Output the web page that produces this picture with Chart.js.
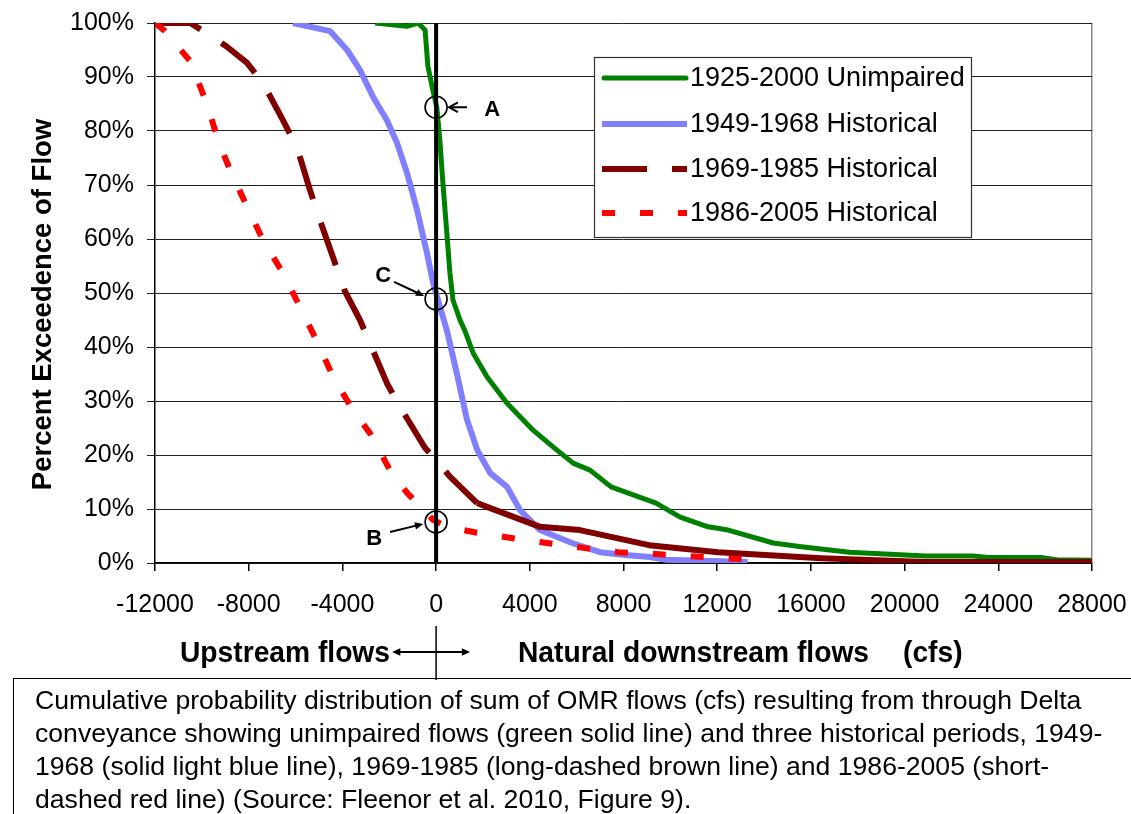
<!DOCTYPE html>
<html>
<head>
<meta charset="utf-8">
<script src="https://cdn.jsdelivr.net/npm/chart.js@4.4.1/dist/chart.umd.min.js"></script>
<style>
body{margin:0;background:#fff;width:1131px;height:814px;overflow:hidden;position:relative;font-family:"Liberation Sans",Arial,sans-serif}
#c{position:absolute;left:0;top:0}
.lbl{position:absolute;top:637px;font-weight:bold;font-size:30px;line-height:30px;white-space:nowrap;transform:scaleX(0.94);transform-origin:left top}
#cap{position:absolute;left:13px;top:678px;width:1118px;height:136px;border-left:1.5px solid #000;border-top:1.5px solid #000;box-sizing:border-box;padding:5px 0 0 21px;white-space:nowrap;font-size:26.6px;line-height:33px}
</style>
</head>
<body>
<canvas id="c" width="1131" height="680"></canvas>
<div class="lbl" style="left:180px">Upstream flows</div>
<div class="lbl" style="left:518px">Natural downstream flows</div>
<div class="lbl" style="left:903px">(cfs)</div>
<div id="cap">Cumulative probability distribution of sum of OMR flows (cfs) resulting from through Delta<br>conveyance showing unimpaired flows (green solid line) and three historical periods, 1949-<br>1968 (solid light blue line), 1969-1985 (long-dashed brown line) and 1986-2005 (short-<br>dashed red line) (Source: Fleenor et al. 2010, Figure 9).</div>
<script>
// series labels
const seriesNames = ['1925-2000 Unimpaired', '1949-1968 Historical', '1969-1985 Historical', '1986-2005 Historical'];

// flow (cfs) / percent exceedence
const unimpX = [-2600, -1250, -770, -470, -350, -140, 30, 160, 290, 460, 590, 720, 1020, 1230, 1580, 2170, 3030, 4140, 4990, 5850, 6570, 7470, 9390, 10420, 11610, 12470, 14390, 15590, 17640, 20890, 22940, 23540, 25890, 26490, 28000];
const unimpY = [100, 99.4, 100, 98.7, 92, 87.6, 84.4, 78.3, 70.4, 61, 53.7, 48.7, 45, 43, 38.9, 34.5, 29.6, 24.6, 21.5, 18.5, 17.2, 14.1, 11.1, 8.5, 6.7, 6.1, 3.7, 3.0, 2.0, 1.3, 1.3, 1.0, 1.0, 0.6, 0.5];

const h4968X = [-6110, -4530, -3800, -3250, -2690, -2100, -1670, -1240, -815, -390, -130, 40, 465, 890, 1320, 1750, 2300, 3030, 3580, 4440, 5800, 7000, 8070, 9130, 9820, 13300];
const h4968Y = [100, 98.5, 95, 91.3, 86.3, 82, 77.8, 72.2, 65.4, 57.4, 51.9, 49.3, 43, 35, 26.5, 21, 16.7, 14.1, 9.8, 6.1, 3.7, 2.0, 1.5, 1.1, 0.6, 0.2];

const h6985X = [-11900, -10500, -9780, -8930, -8070, -7390, -6540, -5940, -5380, -4960, -3890, -3250, -2100, -1540, -470, 80, 590, 1750, 2170, 4440, 6140, 9090, 12040, 16440, 20890, 28000];
const h6985Y = [100, 100, 98.1, 95.6, 92.6, 88.9, 82, 77, 69, 63.5, 50.3, 45, 33.3, 28.9, 21.3, 18.7, 16, 11.1, 10.4, 6.7, 6.1, 3.3, 2.0, 0.9, 0.2, 0.2];

const h8605X = [-12000, -11570, -10510, -9780, -9310, -8800, -8070, -7390, -6540, -5810, -5080, -4400, -3550, -2820, -1970, -1240, -130, 465, 1750, 3280, 4730, 6270, 7770, 9220, 10720, 12170, 13750, 14040];
const h8605Y = [100, 98.5, 93, 85, 78.3, 72.8, 66, 59.8, 53.7, 47.4, 41, 34.5, 28.3, 24, 17.2, 13, 8, 6.7, 5.6, 4.6, 3.7, 2.8, 2.0, 1.7, 1.3, 0.9, 0.6, 0.5];

// circled points on the zero line
const markNames = ['A', 'C', 'B'];
const markPct = [84.4, 48.9, 7.6];

const colors = ['#008000', '#8080ff', '#800000', '#ff0000'];
const widths = [5, 6, 6, 6];
const dashes = [[], [], [45, 25], [13, 25]];

function pts(xs, ys) {
  return xs.map((x, i) => ({x: x, y: ys[i]}));
}

const sans = '"Liberation Sans", Arial, sans-serif';

// line with an arrow head at (x2,y2), open or filled
function arrow(c, x1, y1, x2, y2, filled) {
  const a = Math.atan2(y2 - y1, x2 - x1);
  const L = filled ? 9 : 10, w = filled ? 0.42 : 0.5;
  c.beginPath();
  c.moveTo(x1, y1);
  c.lineTo(x2 - (filled ? 4 * Math.cos(a) : 0), y2 - (filled ? 4 * Math.sin(a) : 0));
  c.stroke();
  c.beginPath();
  c.moveTo(x2 - L * Math.cos(a - w), y2 - L * Math.sin(a - w));
  c.lineTo(x2, y2);
  c.lineTo(x2 - L * Math.cos(a + w), y2 - L * Math.sin(a + w));
  if (filled) { c.closePath(); c.fill(); } else c.stroke();
}

const extras = {
  id: 'extras',
  afterDatasetsDraw(chart) {
    const c = chart.ctx;
    const xs = chart.scales.x, ys = chart.scales.y;
    const area = chart.chartArea;
    const x0 = xs.getPixelForValue(0);
    c.save();
    // zero line
    c.strokeStyle = '#000';
    c.lineWidth = 4;
    c.beginPath();
    c.moveTo(x0, area.top);
    c.lineTo(x0, area.bottom);
    c.stroke();

    // circles + labels
    c.fillStyle = '#000';
    c.font = 'bold 22px ' + sans;
    c.textAlign = 'center';
    c.textBaseline = 'middle';
    markNames.forEach((m, i) => {
      const cy = ys.getPixelForValue(markPct[i]);
      c.lineWidth = 1.6;
      c.beginPath();
      c.arc(x0, cy, 11, 0, Math.PI * 2);
      c.stroke();
      c.lineWidth = 2;
      if (m === 'A') {
        arrow(c, x0 + 31, cy, x0 + 13, cy, false);
        c.fillText(m, x0 + 56, cy + 3);
      } else if (m === 'C') {
        arrow(c, x0 - 42, cy - 17, x0 - 12, cy - 3, true);
        c.fillText(m, x0 - 53, cy - 23);
      } else {
        arrow(c, x0 - 46, cy + 10, x0 - 13, cy + 2, true);
        c.fillText(m, x0 - 62, cy + 17);
      }
    });

    // legend box
    c.fillStyle = '#fff';
    c.fillRect(594, 57, 377, 180);
    c.strokeStyle = '#333';
    c.lineWidth = 1.2;
    c.strokeRect(594.5, 57.5, 377, 180);
    const rows = [78, 124, 169, 213];
    c.textAlign = 'left';
    c.font = '27px ' + sans;
    seriesNames.forEach((n, i) => {
      c.strokeStyle = colors[i];
      c.lineWidth = widths[i];
      c.lineCap = i === 0 ? 'round' : 'butt';
      c.setLineDash(dashes[i]);
      c.beginPath();
      c.moveTo(i === 0 ? 604 : 602, rows[i]);
      c.lineTo(i === 0 ? 686 : 687, rows[i]);
      c.stroke();
      c.setLineDash([]);
      c.fillStyle = '#000';
      c.fillText(n, 690, rows[i] + 1);
    });

    // arrow under the axis
    c.strokeStyle = '#000';
    c.fillStyle = '#000';
    c.lineWidth = 1.5;
    c.lineCap = 'butt';
    c.beginPath();
    c.moveTo(x0, 626);
    c.lineTo(x0, 680);
    c.stroke();
    c.lineWidth = 2;
    arrow(c, x0, 652, x0 - 44, 652, true);
    arrow(c, x0, 652, x0 + 34, 652, true);
    c.restore();
  }
};

const ctx = document.getElementById('c').getContext('2d');
const myChart = new Chart(ctx, {
  type: 'line',
  data: {
    datasets: [
      {label: seriesNames[0], data: pts(unimpX, unimpY), borderColor: colors[0], borderWidth: widths[0], order: 4},
      {label: seriesNames[1], data: pts(h4968X, h4968Y), borderColor: colors[1], borderWidth: widths[1], order: 3},
      {label: seriesNames[2], data: pts(h6985X, h6985Y), borderColor: colors[2], borderWidth: widths[2], order: 2,
        segment: {borderDash: s => s.p0.parsed.x > 1500 ? [] : dashes[2]}},
      {label: seriesNames[3], data: pts(h8605X, h8605Y), borderColor: colors[3], borderWidth: widths[3], order: 1,
        borderDash: dashes[3]}
    ]
  },
  options: {
    responsive: false,
    animation: false,
    events: [],
    elements: {
      point: {radius: 0},
      line: {tension: 0, fill: false, borderJoinStyle: 'round'}
    },
    layout: {padding: {left: 0, right: 39, top: 23, bottom: 57}},
    plugins: {legend: {display: false}, tooltip: {enabled: false}},
    scales: {
      x: {
        type: 'linear',
        min: -12000,
        max: 28000,
        afterFit: s => { s.height = 60; s.paddingLeft = 0; s.paddingRight = 0; },
        ticks: {
          stepSize: 4000,
          autoSkip: false,
          maxRotation: 0,
          color: '#000',
          padding: 19,
          font: {family: sans, size: 25},
          callback: v => String(v)
        },
        grid: {
          drawOnChartArea: true,
          color: g => g.index === 10 ? '#888' : 'rgba(0,0,0,0)',
          tickColor: '#000',
          tickLength: 8,
          lineWidth: 1.5
        },
        border: {color: '#000', width: 1.5}
      },
      y: {
        min: 0,
        max: 100,
        afterFit: s => { s.width = 155; s.paddingTop = 0; s.paddingBottom = 0; },
        ticks: {
          stepSize: 10,
          color: '#000',
          padding: 13,
          font: {family: sans, size: 25},
          callback: v => v + '%'
        },
        grid: {color: '#222', lineWidth: 1, tickLength: 8},
        border: {color: '#000', width: 1.5},
        title: {
          display: true,
          text: 'Percent Exceedence of Flow   ',
          color: '#000',
          font: {family: sans, size: 27.5, weight: 'bold'},
          padding: {top: 27, bottom: 0}
        }
      }
    }
  },
  plugins: [extras]
});
</script>
</body>
</html>
